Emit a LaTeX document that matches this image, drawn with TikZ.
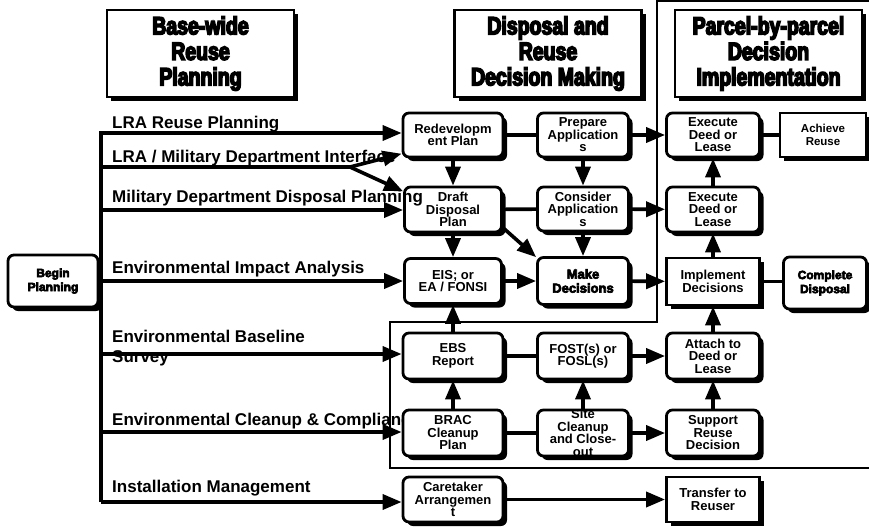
\documentclass[tikz,border=0pt]{standalone}
\usepackage{fontspec}
\setmainfont{Liberation Sans}
\newfontfamily\headfont{Liberation Sans}[UprightFont=* Bold, BoldFont=* Bold, FakeStretch=0.78, FakeBold=6]
\newfontfamily\heavyfont{Liberation Sans}[UprightFont=* Bold, BoldFont=* Bold, FakeBold=5]
\usetikzlibrary{arrows.meta,shadows}

\newcommand\btfont{\bfseries\fontsize{13}{12.5}\selectfont}

\begin{document}
\begin{tikzpicture}[x=1pt,y=-1pt,
  every node/.style={inner sep=0pt},
  shadowed/.style={drop shadow={shadow xshift=4pt,shadow yshift=-4pt,fill=black,opacity=1}},
  header/.style={draw, line width=2.2pt, fill=white, shadowed, minimum width=187pt,
    minimum height=87pt, align=center, font=\headfont\fontsize{25}{25.5}\selectfont},
  box/.style={draw, line width=2.8pt, fill=white, rounded corners=6pt, shadowed,
    minimum width=97pt, minimum height=45pt},
  sbox/.style={box, sharp corners},
  btfont/.code={\def\btfont{#1}},
  heavytext/.style={btfont={\heavyfont\fontsize{#1}{14}\selectfont}},
  boxtext/.style={path picture={\node[inner sep=0pt, draw=none, fill=none, align=center,
    font=\btfont] at (path picture bounding box.center) {#1};}},
  rowlabel/.style={anchor=base west, font=\bfseries\fontsize{17}{20}\selectfont},
  link/.style={line width=3.6pt},
  arr/.style={line width=3.6pt, -{Triangle[length=19pt,width=15pt]}},
  region/.style={line width=1.6pt},
]
\useasboundingbox (0,0) rectangle (869,530);

% outline of the implementation stage
\draw[region] (869,1) -- (657,1) -- (657,322) -- (390,322) -- (390,468) -- (869,468);

% planning streams
\node[rowlabel] (lab1) at (112,128) {LRA Reuse Planning};
\node[rowlabel] (lab2) at (112,162) {LRA / Military Department Interface};
\node[rowlabel] (lab4) at (112,273) {Environmental Impact Analysis};
\node[rowlabel] (lab5) at (112,342) {Environmental Baseline};
\node[rowlabel] (lab5b) at (112,362) {Survey};
\node[rowlabel] (lab6) at (112,425) {Environmental Cleanup \& Compliance};
\node[rowlabel] (lab7) at (112,492) {Installation Management};

% trunk coordinates
\coordinate (tA) at (101,133);
\coordinate (tB) at (101,167);
\coordinate (tC) at (101,210);
\coordinate (tD) at (101,281);
\coordinate (tE) at (101,354);
\coordinate (tF) at (101,432);
\coordinate (tG) at (101,502);
\coordinate (split) at (350,167);

% process boxes
\node[box, minimum width=90pt, minimum height=52pt, heavytext=12,
  boxtext={Begin\\Planning}] (begin) at (53,281) {};

\node[box, minimum width=100pt, minimum height=44pt, boxtext={Redevelopm\\ent Plan}] (redev) at (453,135) {};
\node[box, boxtext={Draft\\Disposal\\Plan}] (draft) at (453,209.5) {};
\node[box, boxtext={EIS; or\\EA / FONSI}] (eis) at (453,281) {};
\node[box, minimum width=100pt, minimum height=46pt, boxtext={EBS\\Report}] (ebs) at (453,356) {};
\node[box, minimum width=100pt, minimum height=46pt, boxtext={BRAC\\Cleanup\\Plan}] (brac) at (453,433) {};
\node[box, minimum width=100pt, boxtext={Caretaker\\Arrangemen\\t}] (care) at (453,499.5) {};

\node[box, minimum width=91pt, minimum height=44pt, boxtext={Prepare\\Application\\s}] (prepare) at (583,135) {};
\node[box, minimum width=91pt, minimum height=44pt, boxtext={Consider\\Application\\s}] (consider) at (583,209) {};
\node[box, minimum width=91pt, minimum height=47pt, heavytext=13,
  boxtext={Make\\Decisions}] (make) at (583,281) {};
\node[box, minimum width=91pt, minimum height=46pt, boxtext={FOST(s) or\\FOSL(s)}] (fost) at (583,356) {};
\node[box, minimum width=91pt, minimum height=46pt, boxtext={Site\\Cleanup\\and Close-\\out}] (site) at (583,433) {};

\node[box, minimum width=93pt, minimum height=44pt, boxtext={Execute\\Deed or\\Lease}] (exec1) at (713,135) {};
\node[box, minimum width=93pt, boxtext={Execute\\Deed or\\Lease}] (exec2) at (713,209.5) {};
\node[sbox, minimum width=93pt, minimum height=47pt, boxtext={Implement\\Decisions}] (impl) at (713,281.5) {};
\node[box, minimum width=93pt, minimum height=46pt, boxtext={Attach to\\Deed or\\Lease}] (attach) at (713,356) {};
\node[box, minimum width=93pt, minimum height=46pt, boxtext={Support\\Reuse\\Decision}] (support) at (713,433) {};
\node[sbox, minimum width=93pt, boxtext={Transfer to\\Reuser}] (transfer) at (713,499.5) {};

\node[sbox, minimum width=86pt, minimum height=44pt,
  btfont={\bfseries\fontsize{11.5}{13}\selectfont}, boxtext={Achieve\\Reuse}] (achieve) at (823,135) {};
\node[box, minimum width=83pt, minimum height=52pt, heavytext=12,
  boxtext={Complete\\Disposal}] (complete) at (825,283) {};

% stage headings
\node[header] (h1) at (200.5,53.5) {Base-wide\\Reuse\\Planning};
\node[header] (h2) at (548,53.5) {Disposal and\\Reuse\\Decision Making};
\node[header] (h3) at (768.5,53.5) {Parcel-by-parcel\\Decision\\Implementation};

\node[rowlabel] (lab3) at (112,202) {Military Department Disposal Planning};

% streams feeding the first column
\draw[link] (begin.east) -- (begin.east -| tA);
\draw[arr] (tG) -- (tA) -- (tA -| redev.west);
\draw[link] (tB) -- (split);
\draw[arr] (split) -- (redev.200);
\draw[arr] (split) -- (draft.160);
\draw[arr] (tC) -- (tC -| draft.west);
\draw[arr] (tD) -- (tD -| eis.west);
\draw[arr] (tE) -- (tE -| ebs.west);
\draw[arr] (tF) -- (tF -| brac.west);
\draw[arr] (tG) -- (tG -| care.west);

% links between boxes
\draw[link] (redev) -- (prepare);
\draw[link] (draft) -- (consider);
\draw[link] (ebs) -- (fost);
\draw[link] (brac) -- (site);
\draw[link] (exec1) -- (achieve);
\draw[link] (impl.east) -- (impl.east -| complete.west);

\draw[arr] (redev) -- (draft);
\draw[arr] (prepare) -- (consider);
\draw[arr] (consider) -- (make);
\draw[arr] (draft.-20) -- (make.153);
\draw[arr] (draft) -- (eis);
\draw[arr] (eis) -- (make);
\draw[arr] (ebs) -- (eis);
\draw[arr] (brac) -- (ebs);
\draw[arr] (site) -- (fost);
\draw[arr] (fost) -- (attach);
\draw[arr] (site) -- (support);
\draw[arr] (support) -- (attach);
\draw[arr] (attach) -- (impl);
\draw[arr] (impl) -- (exec2);
\draw[arr] (exec2) -- (exec1);
\draw[arr] (prepare) -- (exec1);
\draw[arr] (consider) -- (exec2);
\draw[arr] (make) -- (impl);
\draw[arr] (care) -- (transfer);
\end{tikzpicture}
\end{document}
